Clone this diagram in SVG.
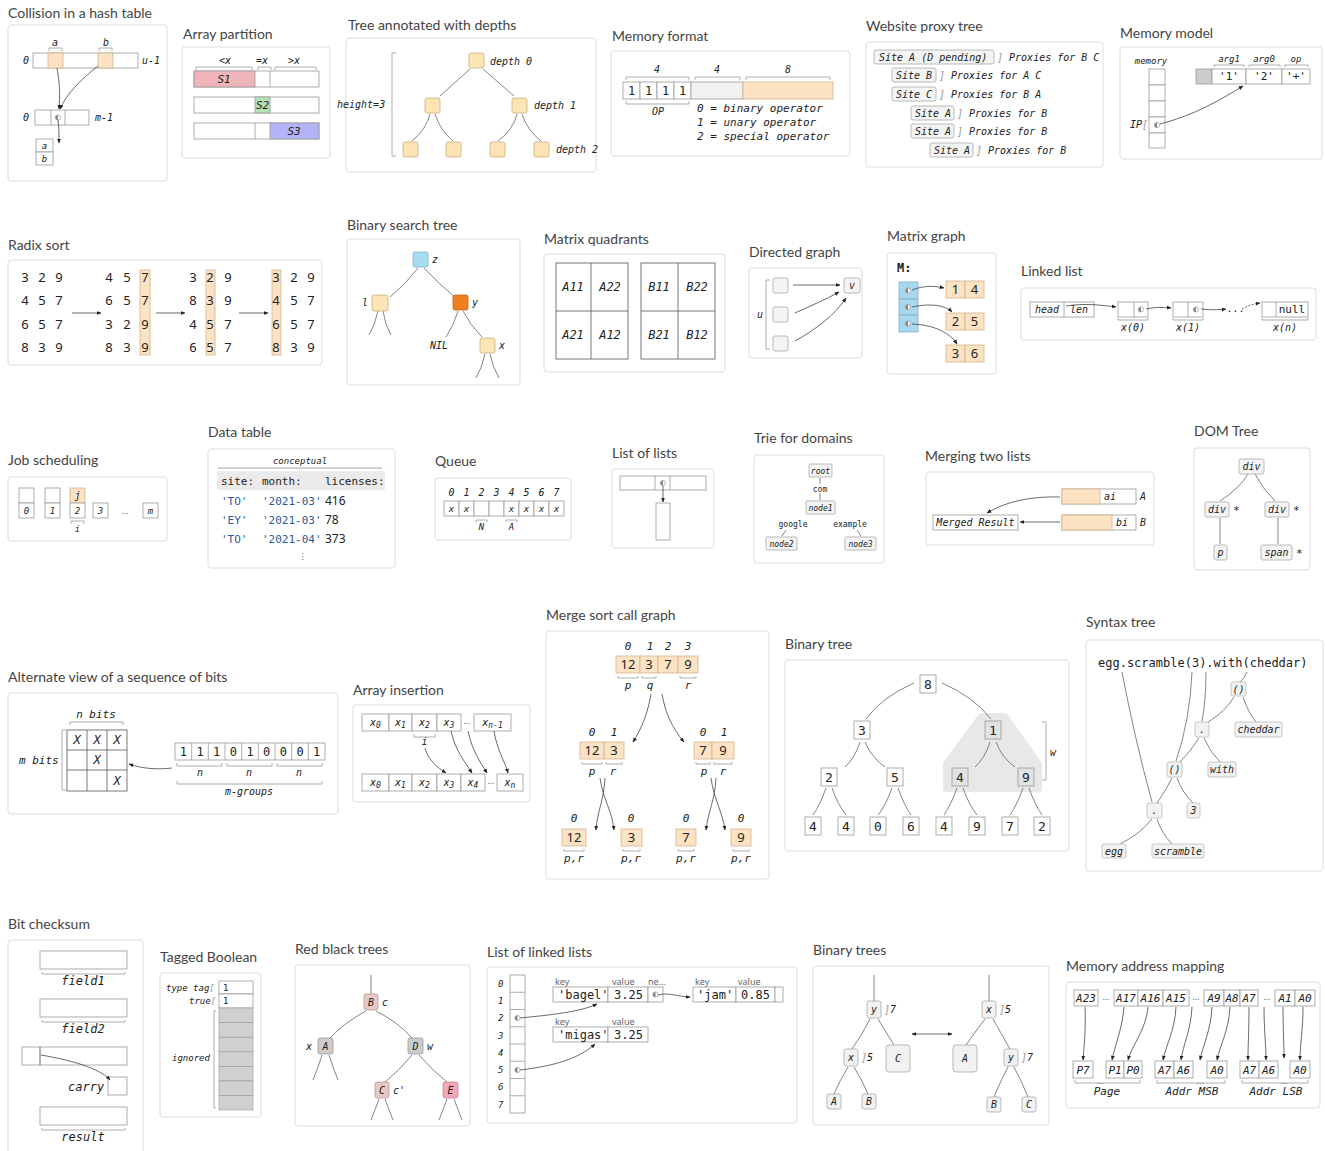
<svg xmlns="http://www.w3.org/2000/svg" width="1325" height="1151" viewBox="0 0 1325 1151">
<defs>
<style>
.t{font-family:Lato,"Noto Sans",sans-serif;font-size:14px;fill:#444}
.p{fill:#fff;stroke:#ddd;stroke-width:1}
.m{font-family:"DejaVu Sans Mono",monospace;font-style:italic;font-size:10px;fill:#222}
.mn{font-family:"DejaVu Sans Mono",monospace;font-size:11px;fill:#222}
.s{font-family:"Noto Sans",sans-serif;font-size:13px;fill:#222}
.sm{font-family:"Noto Sans",sans-serif;font-size:9px;fill:#666}
.c{fill:#fff;stroke:#999;stroke-width:0.8}
.o{fill:#fde2c4;stroke:#d2b58f;stroke-width:0.8}
.n{fill:#fde4b5;stroke:#c9ac80;stroke-width:0.8}
.g{fill:#f4f4f4;stroke:#aaa;stroke-width:0.8}
.e{fill:none;stroke:#666;stroke-width:0.8}
.b{fill:none;stroke:#999;stroke-width:0.8}
.a{fill:none;stroke:#444;stroke-width:0.8;marker-end:url(#ah)}
.mid{text-anchor:middle}
.f8{font-size:8px}.f9{font-size:9px}.f11{font-size:11px}.f12{font-size:12px}.f13{font-size:13px}
.gr{fill:#999}
.str{fill:#2a5a9a}
</style>
<marker id="ah" viewBox="0 0 10 10" refX="9" refY="5" markerWidth="6" markerHeight="6" orient="auto"><path d="M0,1 L10,5 L0,9 z" fill="#222"/></marker>
<marker id="ahs" viewBox="0 0 10 10" refX="1" refY="5" markerWidth="6" markerHeight="6" orient="auto"><path d="M10,1 L0,5 L10,9 z" fill="#222"/></marker>
<g id="ptr"><circle r="2.6" fill="#fff" stroke="#888" stroke-width="0.6"/><path d="M0,-2.6 A2.6,2.6 0 0 0 0,2.6 z" fill="#888"/></g>
</defs>
<rect width="1325" height="1151" fill="#fff"/>

<!-- 1 Collision in a hash table -->
<g id="hash">
<text class="t" x="8" y="18">Collision in a hash table</text>
<rect class="p" x="8" y="25" width="159" height="156" rx="3"/>
<rect class="c" x="33" y="53" width="105" height="15"/>
<rect class="o" x="48" y="53" width="15" height="15"/>
<rect class="o" x="98" y="53" width="15" height="15"/>
<text class="m" x="23" y="64">0</text>
<text class="m" x="142" y="64">u-1</text>
<text class="m mid" x="55" y="46">a</text>
<path class="b" d="M49,51 V48 H62 V51"/>
<text class="m mid" x="106" y="46">b</text>
<path class="b" d="M99,51 V48 H112 V51"/>
<rect class="c" x="35" y="110" width="54" height="15"/>
<path class="b" d="M51,110 V125 M65,110 V125"/>
<use href="#ptr" x="58" y="117.5"/>
<text class="m" x="23" y="121">0</text>
<text class="m" x="95" y="121">m-1</text>
<rect class="c" x="36" y="139" width="17" height="13"/>
<rect class="c" x="36" y="152" width="17" height="13"/>
<text class="m mid f9" x="44.5" y="149">a</text>
<text class="m mid f9" x="44.5" y="162">b</text>
<g id="hash-edges">
<path class="a" d="M57,68 C60,85 60,95 59,109"/>
<path class="a" d="M98,66 C80,80 66,95 60,109"/>
<path class="a" d="M58,120 C59,128 59,135 59,143"/>
</g>
</g>

<!-- 2 Array partition -->
<g id="partition">
<text class="t" x="183" y="39">Array partition</text>
<rect class="p" x="182" y="47" width="148" height="111" rx="3"/>
<text class="m mid" x="225" y="64">&lt;x</text>
<text class="m mid" x="262" y="64">=x</text>
<text class="m mid" x="294" y="64">&gt;x</text>
<path class="b" d="M196,70 V67 H252 V70 M258,70 V67 H271 V70 M275,70 V67 H316 V70"/>
<rect class="c" x="194" y="71" width="125" height="16"/>
<rect x="194" y="71" width="61" height="16" fill="#f0b4bb" stroke="#999" stroke-width="0.8"/>
<path class="b" d="M270,71 V87"/>
<text class="m mid f11" x="224" y="83">S1</text>
<rect class="c" x="194" y="97" width="125" height="16"/>
<rect x="255" y="97" width="15" height="16" fill="#b5e0b5" stroke="#999" stroke-width="0.8"/>
<text class="m mid f11" x="262.5" y="109">S2</text>
<rect class="c" x="194" y="123" width="125" height="16"/>
<path class="b" d="M255,123 V139"/>
<rect x="270" y="123" width="49" height="16" fill="#b3b3f7" stroke="#999" stroke-width="0.8"/>
<text class="m mid f11" x="294" y="135">S3</text>
</g>

<!-- 3 Tree annotated with depths -->
<g id="depths">
<text class="t" x="348" y="30">Tree annotated with depths</text>
<rect class="p" x="346" y="38" width="250" height="134" rx="3"/>
<path class="b" d="M396,53 H392 V156 H396"/>
<text class="m" x="337" y="108">height=3</text>
<g id="depths-edges">
<path class="e" d="M470,69 L440,96 M483,69 L514,96"/>
<path class="e" d="M430,114 Q426,130 412,141 M435,114 Q440,130 453,141"/>
<path class="e" d="M517,114 Q513,130 498,141 M522,114 Q527,130 541,141"/>
</g>
<rect class="n" x="469" y="53" width="15" height="15" rx="2"/>
<rect class="n" x="425" y="98" width="15" height="15" rx="2"/>
<rect class="n" x="512" y="98" width="15" height="15" rx="2"/>
<rect class="n" x="403" y="142" width="15" height="15" rx="2"/>
<rect class="n" x="446" y="142" width="15" height="15" rx="2"/>
<rect class="n" x="490" y="142" width="15" height="15" rx="2"/>
<rect class="n" x="534" y="142" width="15" height="15" rx="2"/>
<text class="m" x="490" y="65">depth 0</text>
<text class="m" x="534" y="109">depth 1</text>
<text class="m" x="556" y="153">depth 2</text>
</g>

<!-- 4 Memory format -->
<g id="memformat">
<text class="t" x="612" y="41">Memory format</text>
<rect class="p" x="611" y="51" width="239" height="105" rx="3"/>
<text class="m mid" x="657" y="73">4</text>
<text class="m mid" x="717" y="73">4</text>
<text class="m mid" x="788" y="73">8</text>
<path class="b" d="M626,80 V77 H689 V80 M695,80 V77 H740 V80 M746,80 V77 H830 V80"/>
<rect class="c" x="623" y="82" width="17" height="17"/>
<rect class="c" x="640" y="82" width="17" height="17"/>
<rect class="c" x="657" y="82" width="17" height="17"/>
<rect class="c" x="674" y="82" width="17" height="17"/>
<rect x="691" y="82" width="52" height="17" fill="#f2f2f2" stroke="#999" stroke-width="0.8"/>
<rect class="o" x="743" y="82" width="90" height="17"/>
<text class="mn mid f12" x="631.5" y="95">1</text>
<text class="mn mid f12" x="648.5" y="95">1</text>
<text class="mn mid f12" x="665.5" y="95">1</text>
<text class="mn mid f12" x="682.5" y="95">1</text>
<path class="b" d="M626,101 V104 H689 V101"/>
<text class="m mid" x="658" y="115">OP</text>
<text class="m f11" x="697" y="112">0 = binary operator</text>
<text class="m f11" x="697" y="126">1 = unary operator</text>
<text class="m f11" x="697" y="140">2 = special operator</text>
</g>

<!-- 5 Website proxy tree -->
<g id="proxy">
<text class="t" x="866" y="31">Website proxy tree</text>
<rect class="p" x="866" y="42" width="237" height="125" rx="3"/>
<rect class="g" x="874" y="50" width="120" height="14" rx="2"/>
<text class="m" x="879" y="61">Site A (D pending)</text>
<text class="m" x="997" y="61"><tspan class="gr">]</tspan> Proxies for B C</text>
<rect class="g" x="892" y="68" width="44" height="14" rx="2"/>
<text class="m" x="896" y="79">Site B</text>
<text class="m" x="939" y="79"><tspan class="gr">]</tspan> Proxies for A C</text>
<rect class="g" x="892" y="87" width="44" height="14" rx="2"/>
<text class="m" x="896" y="98">Site C</text>
<text class="m" x="939" y="98"><tspan class="gr">]</tspan> Proxies for B A</text>
<rect class="g" x="911" y="106" width="43" height="14" rx="2"/>
<text class="m" x="915" y="117">Site A</text>
<text class="m" x="957" y="117"><tspan class="gr">]</tspan> Proxies for B</text>
<rect class="g" x="911" y="124" width="43" height="14" rx="2"/>
<text class="m" x="915" y="135">Site A</text>
<text class="m" x="957" y="135"><tspan class="gr">]</tspan> Proxies for B</text>
<rect class="g" x="930" y="143" width="43" height="14" rx="2"/>
<text class="m" x="934" y="154">Site A</text>
<text class="m" x="976" y="154"><tspan class="gr">]</tspan> Proxies for B</text>
</g>

<!-- 6 Memory model -->
<g id="memmodel">
<text class="t" x="1120" y="38">Memory model</text>
<rect class="p" x="1120" y="47" width="202" height="112" rx="3"/>
<text class="m mid f9" x="1151" y="64">memory</text>
<rect class="c" x="1149" y="69" width="16" height="16"/>
<rect class="c" x="1149" y="85" width="16" height="16"/>
<rect class="c" x="1149" y="101" width="16" height="16"/>
<rect class="c" x="1149" y="117" width="16" height="16"/>
<rect class="c" x="1149" y="133" width="16" height="15"/>
<use href="#ptr" x="1157" y="125"/>
<text class="m" x="1130" y="128">IP<tspan class="gr">[</tspan></text>
<rect x="1196" y="69" width="16" height="15" fill="#ccc" stroke="#999" stroke-width="0.8"/>
<rect class="c" x="1212" y="69" width="34" height="15"/>
<rect class="c" x="1246" y="69" width="36" height="15"/>
<rect class="c" x="1282" y="69" width="28" height="15"/>
<text class="mn mid" x="1229" y="80">'1'</text>
<text class="mn mid" x="1264" y="80">'2'</text>
<text class="mn mid" x="1296" y="80">'+'</text>
<text class="m mid f9" x="1229" y="62">arg1</text>
<text class="m mid f9" x="1264" y="62">arg0</text>
<text class="m mid f9" x="1296" y="62">op</text>
<path class="b" d="M1214,67 V65 H1244 V67 M1249,67 V65 H1280 V67 M1285,67 V65 H1308 V67"/>
<g id="memmodel-edges"><path class="a" d="M1160,124 C1195,115 1220,100 1243,86"/></g>
</g>

<!-- 7 Radix sort -->
<g id="radix">
<text class="t" x="8" y="250">Radix sort</text>
<rect class="p" x="8" y="260" width="314" height="105" rx="3"/>
<rect class="o" x="140" y="270" width="10" height="85"/>
<rect class="o" x="206" y="270" width="9" height="85"/>
<rect class="o" x="272" y="270" width="9" height="85"/>
<g class="s" text-anchor="middle">
<text x="25" y="282">3</text><text x="42" y="282">2</text><text x="59" y="282">9</text>
<text x="25" y="305">4</text><text x="42" y="305">5</text><text x="59" y="305">7</text>
<text x="25" y="329">6</text><text x="42" y="329">5</text><text x="59" y="329">7</text>
<text x="25" y="352">8</text><text x="42" y="352">3</text><text x="59" y="352">9</text>
<text x="109" y="282">4</text><text x="127" y="282">5</text><text x="145" y="282">7</text>
<text x="109" y="305">6</text><text x="127" y="305">5</text><text x="145" y="305">7</text>
<text x="109" y="329">3</text><text x="127" y="329">2</text><text x="145" y="329">9</text>
<text x="109" y="352">8</text><text x="127" y="352">3</text><text x="145" y="352">9</text>
<text x="193" y="282">3</text><text x="210" y="282">2</text><text x="228" y="282">9</text>
<text x="193" y="305">8</text><text x="210" y="305">3</text><text x="228" y="305">9</text>
<text x="193" y="329">4</text><text x="210" y="329">5</text><text x="228" y="329">7</text>
<text x="193" y="352">6</text><text x="210" y="352">5</text><text x="228" y="352">7</text>
<text x="276" y="282">3</text><text x="294" y="282">2</text><text x="311" y="282">9</text>
<text x="276" y="305">4</text><text x="294" y="305">5</text><text x="311" y="305">7</text>
<text x="276" y="329">6</text><text x="294" y="329">5</text><text x="311" y="329">7</text>
<text x="276" y="352">8</text><text x="294" y="352">3</text><text x="311" y="352">9</text>
</g>
<g id="radix-edges">
<path class="a" d="M72,313 H101"/>
<path class="a" d="M156,313 H185"/>
<path class="a" d="M239,313 H268"/>
</g>
</g>

<!-- 8 Binary search tree -->
<g id="bst">
<text class="t" x="347" y="230">Binary search tree</text>
<rect class="p" x="347" y="239" width="173" height="146" rx="3"/>
<g id="bst-edges">
<path class="e" d="M418,268 Q405,285 390,297"/>
<path class="e" d="M424,268 Q440,285 455,297"/>
<path class="e" d="M378,311 Q375,325 369,335 M383,311 Q385,325 391,335"/>
<path class="e" d="M458,311 Q454,325 446,337"/>
<path class="e" d="M463,311 Q470,325 482,337"/>
<path class="e" d="M485,354 Q482,368 476,378 M490,354 Q493,368 499,378"/>
</g>
<rect x="413" y="252" width="15" height="15" rx="2" fill="#a8dcf0" stroke="#7fb4cc" stroke-width="0.8"/>
<rect class="n" x="372" y="295" width="16" height="16" rx="2"/>
<rect x="453" y="295" width="15" height="15" rx="2" fill="#f07f1f" stroke="#c8661a" stroke-width="0.8"/>
<rect class="n" x="480" y="338" width="15" height="15" rx="2"/>
<text class="m" x="432" y="263">z</text>
<text class="m" x="362" y="306">l</text>
<text class="m" x="472" y="306">y</text>
<text class="m" x="499" y="349">x</text>
<text class="m" x="430" y="349">NIL</text>
</g>

<!-- 9 Matrix quadrants -->
<g id="quadrants">
<text class="t" x="544" y="244">Matrix quadrants</text>
<rect class="p" x="544" y="254" width="181" height="118" rx="3"/>
<rect x="556" y="263" width="72" height="96" fill="none" stroke="#555" stroke-width="0.8"/>
<path d="M591,263 V359 M556,311 H628" stroke="#555" stroke-width="0.8"/>
<rect x="641" y="263" width="74" height="96" fill="none" stroke="#555" stroke-width="0.8"/>
<path d="M678,263 V359 M641,311 H715" stroke="#555" stroke-width="0.8"/>
<g class="m f12" text-anchor="middle">
<text x="573" y="291">A11</text><text x="610" y="291">A22</text>
<text x="573" y="339">A21</text><text x="610" y="339">A12</text>
<text x="659" y="291">B11</text><text x="697" y="291">B22</text>
<text x="659" y="339">B21</text><text x="697" y="339">B12</text>
</g>
</g>

<!-- 10 Directed graph -->
<g id="directed">
<text class="t" x="749" y="257">Directed graph</text>
<rect class="p" x="749" y="268" width="113" height="90" rx="3"/>
<rect class="g" x="773" y="278" width="15" height="15" rx="2"/>
<rect class="g" x="773" y="307" width="15" height="15" rx="2"/>
<rect class="g" x="773" y="336" width="15" height="15" rx="2"/>
<rect class="g" x="844" y="278" width="16" height="15" rx="2"/>
<text class="m mid" x="852" y="289">v</text>
<path class="b" d="M770,280 H766 V349 H770"/>
<text class="m" x="757" y="318">u</text>
<g id="directed-edges">
<path class="a" d="M793,285 H840"/>
<path class="a" d="M795,313 C810,306 825,300 839,292"/>
<path class="a" d="M795,341 C815,330 835,315 846,298"/>
</g>
</g>

<!-- 11 Matrix graph -->
<g id="matgraph">
<text class="t" x="887" y="241">Matrix graph</text>
<rect class="p" x="887" y="253" width="109" height="121" rx="3"/>
<text class="mn f12" x="897" y="272" font-weight="bold">M:</text>
<rect x="899" y="282" width="19" height="17" fill="#a8d8ee" stroke="#7fb0cc" stroke-width="0.8"/>
<rect x="899" y="299" width="19" height="16" fill="#a8d8ee" stroke="#7fb0cc" stroke-width="0.8"/>
<rect x="899" y="315" width="19" height="17" fill="#a8d8ee" stroke="#7fb0cc" stroke-width="0.8"/>
<use href="#ptr" x="908" y="290.5"/>
<use href="#ptr" x="908" y="307"/>
<use href="#ptr" x="908" y="323.5"/>
<rect class="o" x="946" y="281" width="19" height="17"/><rect class="o" x="965" y="281" width="19" height="17"/>
<rect class="o" x="946" y="313" width="19" height="17"/><rect class="o" x="965" y="313" width="19" height="17"/>
<rect class="o" x="946" y="345" width="19" height="17"/><rect class="o" x="965" y="345" width="19" height="17"/>
<g class="s" text-anchor="middle">
<text x="955.5" y="294">1</text><text x="974.5" y="294">4</text>
<text x="955.5" y="326">2</text><text x="974.5" y="326">5</text>
<text x="955.5" y="358">3</text><text x="974.5" y="358">6</text>
</g>
<g id="matgraph-edges">
<path class="a" d="M912,290 C925,285 935,286 944,288"/>
<path class="a" d="M912,307 C930,303 945,305 952,312"/>
<path class="a" d="M912,324 C935,325 950,333 957,344"/>
</g>
</g>

<!-- 12 Linked list -->
<g id="linked">
<text class="t" x="1021" y="276">Linked list</text>
<rect class="p" x="1021" y="288" width="295" height="52" rx="3"/>
<rect class="c" x="1030" y="302" width="64" height="15"/>
<path class="b" d="M1064,302 V317"/>
<text class="m mid" x="1047" y="313">head</text>
<text class="m mid" x="1079" y="313">len</text>
<rect class="c" x="1118" y="302" width="30" height="15"/><path class="b" d="M1134,302 V317"/>
<use href="#ptr" x="1141" y="309.5"/>
<rect class="c" x="1173" y="302" width="30" height="15"/><path class="b" d="M1188,302 V317"/>
<use href="#ptr" x="1196" y="309.5"/>
<rect class="c" x="1262" y="302" width="46" height="15"/><path class="b" d="M1276,302 V317"/>
<text class="mn mid" x="1292" y="313">null</text>
<path class="b" d="M1118,318 V320 H1148 V318 M1173,318 V320 H1203 V318 M1262,318 V320 H1308 V318"/>
<text class="m mid" x="1133" y="331">x(0)</text>
<text class="m mid" x="1188" y="331">x(1)</text>
<text class="m mid" x="1285" y="331">x(n)</text>
<text class="m" x="1227" y="312">...</text>
<g id="linked-edges">
<path class="a" d="M1066,306 C1085,303 1100,305 1116,307"/>
<path class="a" d="M1146,309 C1155,307 1162,307 1171,308"/>
<path class="a" d="M1201,309 C1210,310 1218,310 1226,309"/>
<path class="a" d="M1242,309 C1248,306 1252,304 1260,303" stroke-dasharray="2,1.5"/>
</g>
</g>

<!-- 13 Job scheduling -->
<g id="jobs">
<text class="t" x="8" y="465">Job scheduling</text>
<rect class="p" x="8" y="477" width="159" height="64" rx="3"/>
<rect class="c" x="19" y="488" width="15" height="15"/>
<rect class="c" x="45" y="488" width="15" height="15"/>
<rect class="o" x="70" y="488" width="15" height="15"/>
<text class="m mid" x="77.5" y="499">j</text>
<rect class="c" x="19" y="503" width="15" height="15"/>
<rect class="c" x="45" y="503" width="15" height="15"/>
<rect class="c" x="70" y="503" width="15" height="15"/>
<rect class="c" x="93" y="503" width="15" height="15"/>
<rect class="c" x="143" y="503" width="15" height="15"/>
<g class="m f9" text-anchor="middle">
<text x="26.5" y="514">0</text><text x="52.5" y="514">1</text><text x="77.5" y="514">2</text><text x="100.5" y="514">3</text><text x="150.5" y="514">m</text>
</g>
<text class="sm mid" x="125" y="514">...</text>
<path class="b" d="M71,524 V521 H84 V524"/>
<text class="m mid f9" x="77.5" y="532">i</text>
</g>

<!-- 14 Data table -->
<g id="datatable">
<text class="t" x="208" y="437">Data table</text>
<rect class="p" x="208" y="449" width="187" height="119" rx="3"/>
<text class="m mid f9" x="300" y="464">conceptual</text>
<path d="M218,468 H382" stroke="#888" stroke-width="0.8"/>
<rect x="217" y="471" width="168" height="19" fill="#ebebeb"/>
<g class="mn">
<text x="221" y="485">site:</text><text x="262" y="485">month:</text><text x="325" y="485">licenses:</text>
<text class="str" x="221" y="505">'TO'</text><text class="str" x="262" y="505">'2021-03'</text><text class="s f12" x="325" y="505">416</text>
<text class="str" x="221" y="524">'EY'</text><text class="str" x="262" y="524">'2021-03'</text><text class="s f12" x="325" y="524">78</text>
<text class="str" x="221" y="543">'TO'</text><text class="str" x="262" y="543">'2021-04'</text><text class="s f12" x="325" y="543">373</text>
</g>
<text class="sm mid" x="302" y="560">⋮</text>
</g>

<!-- 15 Queue -->
<g id="queue">
<text class="t" x="435" y="466">Queue</text>
<rect class="p" x="435" y="478" width="136" height="62" rx="3"/>
<g class="m" text-anchor="middle">
<text x="451.5" y="496">0</text><text x="466.5" y="496">1</text><text x="481.5" y="496">2</text><text x="496.5" y="496">3</text><text x="511.5" y="496">4</text><text x="526.5" y="496">5</text><text x="541.5" y="496">6</text><text x="556.5" y="496">7</text>
</g>
<rect class="c" x="444" y="501" width="15" height="15"/><rect class="c" x="459" y="501" width="15" height="15"/><rect class="c" x="474" y="501" width="15" height="15"/><rect class="c" x="489" y="501" width="15" height="15"/><rect class="c" x="504" y="501" width="15" height="15"/><rect class="c" x="519" y="501" width="15" height="15"/><rect class="c" x="534" y="501" width="15" height="15"/><rect class="c" x="549" y="501" width="15" height="15"/>
<g class="m f9" text-anchor="middle">
<text x="451.5" y="512">x</text><text x="466.5" y="512">x</text><text x="511.5" y="512">x</text><text x="526.5" y="512">x</text><text x="541.5" y="512">x</text><text x="556.5" y="512">x</text>
</g>
<path class="b" d="M476,522 V520 H487 V522 M506,522 V520 H517 V522"/>
<text class="m mid f9" x="481.5" y="530">N</text>
<text class="m mid f9" x="511.5" y="530">A</text>
</g>

<!-- 16 List of lists -->
<g id="listoflists">
<text class="t" x="612" y="458">List of lists</text>
<rect class="p" x="612" y="469" width="102" height="79" rx="3"/>
<rect class="c" x="620" y="476" width="86" height="14"/>
<path class="b" d="M655,476 V490 M670,476 V490"/>
<use href="#ptr" x="663" y="483"/>
<rect class="c" x="656" y="503" width="14" height="37"/>
<g id="listoflists-edges"><path class="a" d="M663,486 V502"/></g>
</g>

<!-- 17 Trie for domains -->
<g id="trie">
<text class="t" x="754" y="443">Trie for domains</text>
<rect class="p" x="754" y="455" width="130" height="108" rx="3"/>
<g id="trie-edges">
<path class="e" d="M820,478 V484 M820,493 V500"/>
<path class="e" d="M786,530 L782,536 M857,530 L861,536"/>
</g>
<rect class="g" x="809" y="464" width="23" height="13" rx="1"/>
<text class="m mid f8" x="820.5" y="474">root</text>
<text class="mn mid f8" x="820" y="492">com</text>
<rect class="g" x="806" y="501" width="29" height="13" rx="1"/>
<text class="m mid f8" x="820.5" y="511">node1</text>
<text class="mn mid f8" x="793" y="527">google</text>
<text class="mn mid f8" x="850" y="527">example</text>
<rect class="g" x="766" y="537" width="31" height="13" rx="1"/>
<text class="m mid f8" x="781.5" y="547">node2</text>
<rect class="g" x="845" y="537" width="31" height="13" rx="1"/>
<text class="m mid f8" x="860.5" y="547">node3</text>
</g>

<!-- 18 Merging two lists -->
<g id="merging">
<text class="t" x="925" y="461">Merging two lists</text>
<rect class="p" x="926" y="472" width="228" height="73" rx="3"/>
<rect class="c" x="1062" y="489" width="74" height="15"/>
<rect class="o" x="1062" y="489" width="38" height="15"/>
<text class="m" x="1104" y="500">ai</text>
<text class="m" x="1140" y="500">A</text>
<rect class="c" x="1062" y="515" width="74" height="15"/>
<rect class="o" x="1062" y="515" width="50" height="15"/>
<text class="m" x="1116" y="526">bi</text>
<text class="m" x="1140" y="526">B</text>
<rect class="c" x="933" y="515" width="85" height="15"/>
<text class="m mid" x="975.5" y="526">Merged Result</text>
<g id="merging-edges">
<path class="a" d="M1060,497 C1030,496 1005,502 987,513"/>
<path class="a" d="M1060,522 H1020"/>
</g>
</g>

<!-- 19 DOM Tree -->
<g id="dom">
<text class="t" x="1194" y="436">DOM Tree</text>
<rect class="p" x="1194" y="448" width="116" height="122" rx="3"/>
<g id="dom-edges">
<path class="e" d="M1248,474 Q1240,488 1220,501"/>
<path class="e" d="M1255,474 Q1262,488 1275,501"/>
<path class="e" d="M1220,518 V544"/>
<path class="e" d="M1278,518 V544"/>
</g>
<rect class="g" x="1239" y="459" width="25" height="15" rx="2"/>
<text class="m mid" x="1251.5" y="470">div</text>
<rect class="g" x="1205" y="502" width="24" height="15" rx="2"/>
<text class="m mid" x="1217" y="513">div</text>
<text class="mn" x="1233" y="514">*</text>
<rect class="g" x="1265" y="502" width="24" height="15" rx="2"/>
<text class="m mid" x="1277" y="513">div</text>
<text class="mn" x="1293" y="514">*</text>
<rect class="g" x="1214" y="545" width="13" height="15" rx="2"/>
<text class="m mid" x="1220.5" y="556">p</text>
<rect class="g" x="1261" y="545" width="31" height="15" rx="2"/>
<text class="m mid" x="1276.5" y="556">span</text>
<text class="mn" x="1296" y="557">*</text>
</g>

<!-- 20 Alternate view of a sequence of bits -->
<g id="altbits">
<text class="t" x="8" y="682">Alternate view of a sequence of bits</text>
<rect class="p" x="8" y="693" width="330" height="121" rx="3"/>
<text class="m mid f11" x="96" y="718">n bits</text>
<path class="b" d="M70,725 V722 H123 V725"/>
<text class="m f11" x="19" y="764">m bits</text>
<path class="b" d="M66,730 H62 V790 H66"/>
<rect x="67" y="730" width="60" height="61" fill="#fff" stroke="#555" stroke-width="0.8"/>
<path d="M87,730 V791 M107,730 V791 M67,750 H127 M67,770 H127" stroke="#555" stroke-width="0.8"/>
<g class="m f12" text-anchor="middle">
<text x="77" y="744">X</text><text x="97" y="744">X</text><text x="117" y="744">X</text>
<text x="97" y="764">X</text><text x="117" y="785">X</text>
</g>
<rect class="c" x="175" y="743" width="150" height="17"/>
<path class="b" d="M191.7,743 V760 M208.3,743 V760 M225,743 V760 M241.7,743 V760 M258.3,743 V760 M275,743 V760 M291.7,743 V760 M308.3,743 V760"/>
<g class="mn f12" text-anchor="middle">
<text x="183.3" y="756">1</text><text x="200" y="756">1</text><text x="216.7" y="756">1</text><text x="233.3" y="756">0</text><text x="250" y="756">1</text><text x="266.7" y="756">0</text><text x="283.3" y="756">0</text><text x="300" y="756">0</text><text x="316.7" y="756">1</text>
</g>
<path class="b" d="M177,763 V766 H222 V763 M227,763 V766 H272 V763 M277,763 V766 H322 V763"/>
<text class="m mid" x="200" y="776">n</text><text class="m mid" x="249" y="776">n</text><text class="m mid" x="299" y="776">n</text>
<path class="b" d="M177,781 V784 H322 V781"/>
<text class="m mid" x="249" y="795">m-groups</text>
<g id="altbits-edges"><path class="a" d="M172,768 C155,770 140,768 129,764"/></g>
</g>

<!-- 21 Array insertion -->
<g id="arrinsert">
<text class="t" x="353" y="695">Array insertion</text>
<rect class="p" x="353" y="705" width="177" height="97" rx="3"/>
<rect class="c" x="362" y="714" width="27" height="17"/><rect class="c" x="389" y="714" width="23" height="17"/><rect class="c" x="412" y="714" width="25" height="17"/><rect class="c" x="437" y="714" width="24" height="17"/><rect class="c" x="474" y="714" width="37" height="17"/>
<g class="m" text-anchor="middle">
<text x="375.5" y="726">x<tspan class="f8" dy="2">0</tspan></text>
<text x="400.5" y="726">x<tspan class="f8" dy="2">1</tspan></text>
<text x="424.5" y="726">x<tspan class="f8" dy="2">2</tspan></text>
<text x="449" y="726">x<tspan class="f8" dy="2">3</tspan></text>
<text x="492.5" y="726">x<tspan class="f8" dy="2">n-1</tspan></text>
</g>
<text class="sm mid" x="467" y="724">...</text>
<path class="b" d="M414,734 V737 H435 V734"/>
<text class="m mid" x="424.5" y="745">i</text>
<rect class="c" x="362" y="774" width="27" height="17"/><rect class="c" x="389" y="774" width="23" height="17"/><rect class="c" x="412" y="774" width="25" height="17"/><rect class="c" x="437" y="774" width="24" height="17"/><rect class="c" x="461" y="774" width="24" height="17"/><rect class="c" x="497" y="774" width="26" height="17"/>
<g class="m" text-anchor="middle">
<text x="375.5" y="786">x<tspan class="f8" dy="2">0</tspan></text>
<text x="400.5" y="786">x<tspan class="f8" dy="2">1</tspan></text>
<text x="424.5" y="786">x<tspan class="f8" dy="2">2</tspan></text>
<text x="449" y="786">x<tspan class="f8" dy="2">3</tspan></text>
<text x="473" y="786">x<tspan class="f8" dy="2">4</tspan></text>
<text x="510" y="786">x<tspan class="f8" dy="2">n</tspan></text>
</g>
<text class="sm mid" x="491" y="784">...</text>
<g id="arrinsert-edges">
<path class="a" d="M425,748 C428,760 438,768 446,773"/>
<path class="a" d="M451,731 C455,750 465,762 472,773"/>
<path class="a" d="M468,731 C472,750 480,762 487,773"/>
<path class="a" d="M494,731 C497,750 505,762 508,773"/>
</g>
</g>

<!-- 22 Merge sort call graph -->
<g id="mergesort">
<text class="t" x="546" y="620">Merge sort call graph</text>
<rect class="p" x="546" y="631" width="223" height="248" rx="3"/>
<g class="m f11" text-anchor="middle">
<text x="628" y="650">0</text><text x="650" y="650">1</text><text x="668" y="650">2</text><text x="688" y="650">3</text>
</g>
<rect class="o" x="616" y="656" width="24" height="17"/><rect class="o" x="640" y="656" width="18" height="17"/><rect class="o" x="658" y="656" width="20" height="17"/><rect class="o" x="678" y="656" width="20" height="17"/>
<g class="s" text-anchor="middle">
<text x="628" y="669">12</text><text x="649" y="669">3</text><text x="668" y="669">7</text><text x="688" y="669">9</text>
</g>
<path class="b" d="M618,676 V678 H638 V676 M642,676 V678 H656 V676 M680,676 V678 H696 V676"/>
<g class="m f11" text-anchor="middle"><text x="628" y="689">p</text><text x="650" y="689">q</text><text x="688" y="689">r</text></g>
<g class="m f11" text-anchor="middle">
<text x="592" y="736">0</text><text x="614" y="736">1</text><text x="703" y="736">0</text><text x="724" y="736">1</text>
</g>
<rect class="o" x="580" y="742" width="24" height="17"/><rect class="o" x="604" y="742" width="20" height="17"/>
<rect class="o" x="694" y="742" width="18" height="17"/><rect class="o" x="712" y="742" width="22" height="17"/>
<g class="s" text-anchor="middle">
<text x="592" y="755">12</text><text x="614" y="755">3</text><text x="703" y="755">7</text><text x="723" y="755">9</text>
</g>
<path class="b" d="M582,762 V764 H602 V762 M606,762 V764 H622 V762 M696,762 V764 H710 V762 M714,762 V764 H732 V762"/>
<g class="m f11" text-anchor="middle"><text x="592" y="775">p</text><text x="613" y="775">r</text><text x="704" y="775">p</text><text x="723" y="775">r</text></g>
<g class="m f11" text-anchor="middle">
<text x="574" y="822">0</text><text x="631" y="822">0</text><text x="686" y="822">0</text><text x="741" y="822">0</text>
</g>
<rect class="o" x="562" y="829" width="24" height="17"/><rect class="o" x="621" y="829" width="21" height="17"/><rect class="o" x="676" y="829" width="20" height="17"/><rect class="o" x="731" y="829" width="20" height="17"/>
<g class="s" text-anchor="middle">
<text x="574" y="842">12</text><text x="631.5" y="842">3</text><text x="686" y="842">7</text><text x="741" y="842">9</text>
</g>
<path class="b" d="M564,849 V851 H584 V849 M623,849 V851 H640 V849 M678,849 V851 H694 V849 M733,849 V851 H749 V849"/>
<g class="m f11" text-anchor="middle"><text x="574" y="862">p,r</text><text x="631" y="862">p,r</text><text x="686" y="862">p,r</text><text x="741" y="862">p,r</text></g>
<g id="mergesort-edges">
<path class="a" d="M651,694 C648,712 642,728 633,742"/>
<path class="a" d="M662,694 C665,712 672,728 684,742"/>
<path class="a" d="M600,778 C603,800 612,810 614,830"/>
<path class="a" d="M605,778 C604,800 597,812 596,830"/>
<path class="a" d="M711,778 C714,800 722,810 725,830"/>
<path class="a" d="M716,778 C715,800 708,812 706,830"/>
</g>
</g>

<!-- 23 Binary tree -->
<g id="bintree">
<text class="t" x="785" y="649">Binary tree</text>
<rect class="p" x="785" y="660" width="284" height="191" rx="3"/>
<path d="M981,716 L1005,716 L1039,764 L1039,789 L946,789 L946,764 Z" fill="#e8e8e8" stroke="#e8e8e8" stroke-width="6" stroke-linejoin="round"/>
<path class="b" d="M1042,722 H1046 V780 H1042"/>
<text class="m" x="1050" y="756">w</text>
<g id="bintree-edges">
<path class="e" d="M914,683 Q882,697 866,719"/>
<path class="e" d="M942,683 Q974,697 991,719"/>
<path class="e" d="M860,742 Q855,758 845,767 M865,742 Q872,758 885,767"/>
<path class="e" d="M990,742 Q985,758 975,767 M996,742 Q1002,758 1015,767"/>
<path class="e" d="M826,788 Q820,805 813,815 M832,788 Q838,805 846,815"/>
<path class="e" d="M892,788 Q886,805 878,815 M898,788 Q904,805 911,815"/>
<path class="e" d="M957,788 Q951,805 944,815 M963,788 Q969,805 977,815"/>
<path class="e" d="M1023,788 Q1017,805 1010,815 M1029,788 Q1035,805 1042,815"/>
</g>
<g class="c">
<rect x="920" y="675" width="16" height="18"/><rect x="854" y="721" width="16" height="18"/>
<rect x="821" y="768" width="16" height="18"/><rect x="887" y="768" width="16" height="18"/>
<rect x="805" y="817" width="16" height="18"/><rect x="838" y="817" width="16" height="18"/><rect x="870" y="817" width="16" height="18"/><rect x="903" y="817" width="16" height="18"/>
<rect x="936" y="817" width="16" height="18"/><rect x="969" y="817" width="16" height="18"/><rect x="1002" y="817" width="16" height="18"/><rect x="1034" y="817" width="16" height="18"/>
</g>
<g fill="#e2e2e2" stroke="#999" stroke-width="0.8">
<rect x="985" y="721" width="16" height="18"/><rect x="952" y="768" width="16" height="18"/><rect x="1018" y="768" width="16" height="18"/>
</g>
<g class="mn f13" text-anchor="middle">
<text x="928" y="689">8</text><text x="862" y="735">3</text><text x="993" y="735">1</text>
<text x="829" y="782">2</text><text x="895" y="782">5</text><text x="960" y="782">4</text><text x="1026" y="782">9</text>
<text x="813" y="831">4</text><text x="846" y="831">4</text><text x="878" y="831">0</text><text x="911" y="831">6</text><text x="944" y="831">4</text><text x="977" y="831">9</text><text x="1010" y="831">7</text><text x="1042" y="831">2</text>
</g>
</g>

<!-- 24 Syntax tree -->
<g id="syntax">
<text class="t" x="1086" y="627">Syntax tree</text>
<rect class="p" x="1086" y="640" width="237" height="231" rx="3"/>
<text class="mn f12" x="1098" y="667">egg.scramble(3).with(cheddar)</text>
<g id="syntax-edges">
<path class="e" d="M1122,672 Q1135,740 1152,802"/>
<path class="e" d="M1192,672 Q1190,720 1176,761"/>
<path class="e" d="M1206,672 Q1206,700 1202,721"/>
<path class="e" d="M1247,672 Q1245,678 1240,682"/>
<path class="e" d="M1234,697 Q1225,712 1208,722 M1243,697 Q1248,712 1256,722"/>
<path class="e" d="M1199,738 Q1190,752 1180,762 M1204,738 Q1210,752 1220,762"/>
<path class="e" d="M1172,778 Q1165,792 1157,803 M1177,778 Q1182,792 1193,803"/>
<path class="e" d="M1152,819 Q1140,834 1120,844 M1157,819 Q1162,834 1172,844"/>
</g>
<g fill="#f2f2f2" stroke="#bbb" stroke-width="0.8">
<rect x="1231" y="682" width="15" height="14" rx="2"/>
<rect x="1195" y="722" width="14" height="15" rx="2"/>
<rect x="1235" y="722" width="47" height="15" rx="2"/>
<rect x="1167" y="762" width="15" height="15" rx="2"/>
<rect x="1208" y="762" width="28" height="15" rx="2"/>
<rect x="1147" y="803" width="15" height="15" rx="2"/>
<rect x="1187" y="803" width="13" height="15" rx="2"/>
<rect x="1102" y="844" width="24" height="14" rx="2"/>
<rect x="1152" y="844" width="52" height="14" rx="2"/>
</g>
<g class="m" text-anchor="middle">
<text x="1238.5" y="693">()</text>
<text x="1202" y="733">.</text>
<text x="1258.5" y="733">cheddar</text>
<text x="1174.5" y="773">()</text>
<text x="1222" y="773">with</text>
<text x="1154.5" y="814">.</text>
<text x="1193.5" y="814">3</text>
<text x="1114" y="855">egg</text>
<text x="1178" y="855">scramble</text>
</g>
</g>

<!-- 25 Bit checksum -->
<g id="checksum">
<text class="t" x="8" y="929">Bit checksum</text>
<rect class="p" x="8" y="940" width="135" height="216" rx="3"/>
<rect class="c" x="40" y="951" width="87" height="18"/>
<path class="b" d="M42,972 V974 H125 V972"/>
<text class="m mid f12" x="83" y="985">field1</text>
<rect class="c" x="40" y="999" width="87" height="18"/>
<path class="b" d="M42,1020 V1022 H125 V1020"/>
<text class="m mid f12" x="83" y="1033">field2</text>
<rect class="c" x="22" y="1047" width="105" height="18"/>
<path d="M40,1047 V1065" stroke="#444" stroke-width="0.8"/>
<rect class="c" x="108" y="1077" width="19" height="18"/>
<text class="m f12" x="68" y="1091">carry</text>
<rect class="c" x="40" y="1107" width="87" height="18"/>
<path class="b" d="M42,1128 V1130 H125 V1128"/>
<text class="m mid f12" x="83" y="1141">result</text>
<g id="checksum-edges"><path class="a" d="M41,1055 C70,1060 100,1068 110,1080"/></g>
</g>

<!-- 26 Tagged Boolean -->
<g id="tagged">
<text class="t" x="160" y="962">Tagged Boolean</text>
<rect class="p" x="160" y="973" width="101" height="144" rx="3"/>
<text class="m f9" x="166" y="991">type tag<tspan class="gr">[</tspan></text>
<text class="m f9" x="189" y="1004">true<tspan class="gr">[</tspan></text>
<rect class="c" x="219" y="981" width="34" height="13"/>
<rect class="c" x="219" y="994" width="34" height="14"/>
<text class="mn f9" x="223" y="991">1</text>
<text class="mn f9" x="223" y="1004">1</text>
<g fill="#d0d0d0" stroke="#999" stroke-width="0.6">
<rect x="219" y="1008" width="34" height="14.6"/><rect x="219" y="1022.6" width="34" height="14.6"/><rect x="219" y="1037.2" width="34" height="14.6"/><rect x="219" y="1051.8" width="34" height="14.6"/><rect x="219" y="1066.4" width="34" height="14.6"/><rect x="219" y="1081" width="34" height="14.6"/><rect x="219" y="1095.6" width="34" height="14.4"/>
</g>
<path class="b" d="M216,1011 H214 V1108 H216"/>
<text class="m f9" x="172" y="1061">ignored</text>
</g>

<!-- 27 Red black trees -->
<g id="redblack">
<text class="t" x="295" y="954">Red black trees</text>
<rect class="p" x="295" y="965" width="175" height="161" rx="3"/>
<g id="redblack-edges">
<path class="e" d="M371,975 V994"/>
<path class="e" d="M366,1011 Q345,1022 330,1038"/>
<path class="e" d="M376,1011 Q398,1022 412,1038"/>
<path class="e" d="M322,1055 Q318,1068 313,1080 M329,1055 Q333,1068 338,1080"/>
<path class="e" d="M412,1055 Q400,1070 385,1082"/>
<path class="e" d="M419,1055 Q432,1070 447,1082"/>
<path class="e" d="M379,1099 Q375,1110 371,1120 M385,1099 Q389,1110 393,1120"/>
<path class="e" d="M447,1099 Q443,1110 439,1120 M454,1099 Q458,1110 462,1120"/>
</g>
<rect x="364" y="994" width="14" height="16" rx="2" fill="#e8c8c4" stroke="#b59a96" stroke-width="0.8"/>
<rect x="318" y="1038" width="15" height="16" rx="2" fill="#cccccc" stroke="#999" stroke-width="0.8"/>
<rect x="408" y="1038" width="15" height="16" rx="2" fill="#cccccc" stroke="#999" stroke-width="0.8"/>
<rect x="375" y="1082" width="14" height="16" rx="2" fill="#e8c8c4" stroke="#b59a96" stroke-width="0.8"/>
<rect x="443" y="1082" width="15" height="16" rx="2" fill="#f4a7b6" stroke="#c98593" stroke-width="0.8"/>
<g class="m" text-anchor="middle">
<text x="371" y="1006">B</text><text x="325.5" y="1050">A</text><text x="415.5" y="1050">D</text><text x="382" y="1094">C</text><text x="450.5" y="1094">E</text>
</g>
<text class="m" x="382" y="1006">c</text>
<text class="m" x="306" y="1050">x</text>
<text class="m" x="427" y="1050">w</text>
<text class="m" x="393" y="1094">c'</text>
</g>

<!-- 28 List of linked lists -->
<g id="listlinked">
<text class="t" x="487" y="957">List of linked lists</text>
<rect class="p" x="487" y="967" width="310" height="156" rx="3"/>
<rect class="c" x="510" y="975" width="15" height="138"/>
<path class="b" d="M510,992.25 H525 M510,1009.5 H525 M510,1026.75 H525 M510,1044 H525 M510,1061.25 H525 M510,1078.5 H525 M510,1095.75 H525"/>
<g class="m f9">
<text x="498" y="987">0</text><text x="498" y="1004">1</text><text x="498" y="1021">2</text><text x="498" y="1039">3</text><text x="498" y="1056">4</text><text x="498" y="1073">5</text><text x="498" y="1090">6</text><text x="498" y="1108">7</text>
</g>
<use href="#ptr" x="517.5" y="1018"/>
<use href="#ptr" x="517.5" y="1070"/>
<text class="sm" x="555" y="985">key</text><text class="sm" x="612" y="985">value</text><text class="sm" x="648" y="985">ne…</text>
<rect class="c" x="553" y="987" width="55" height="15"/><rect class="c" x="608" y="987" width="40" height="15"/><rect class="c" x="648" y="987" width="15" height="15"/>
<text class="mn f12" x="558" y="999">'bagel'</text><text class="mn f12" x="614" y="999">3.25</text>
<use href="#ptr" x="655.5" y="994.5"/>
<text class="sm" x="695" y="985">key</text><text class="sm" x="738" y="985">value</text>
<rect class="c" x="693" y="987" width="43" height="15"/><rect class="c" x="736" y="987" width="39" height="15"/><rect class="c" x="775" y="987" width="8" height="15"/>
<text class="mn f12" x="697" y="999">'jam'</text><text class="mn f12" x="741" y="999">0.85</text>
<text class="sm" x="555" y="1025">key</text><text class="sm" x="612" y="1025">value</text>
<rect class="c" x="553" y="1027" width="55" height="15"/><rect class="c" x="608" y="1027" width="40" height="15"/>
<text class="mn f12" x="558" y="1039">'migas'</text><text class="mn f12" x="614" y="1039">3.25</text>
<g id="listlinked-edges">
<path class="a" d="M520,1018 C550,1015 580,1012 597,1004"/>
<path class="a" d="M520,1070 C555,1066 580,1058 595,1044"/>
<path class="a" d="M658,995 C670,992 678,997 690,997"/>
</g>
</g>

<!-- 29 Binary trees -->
<g id="bintrees">
<text class="t" x="813" y="955">Binary trees</text>
<rect class="p" x="813" y="966" width="236" height="159" rx="3"/>
<g id="bintrees-edges">
<path class="e" d="M874,975 V1001"/>
<path class="e" d="M870,1019 Q862,1035 852,1049"/>
<path class="e" d="M878,1019 Q886,1032 894,1045"/>
<path class="e" d="M848,1067 Q840,1080 834,1094 M854,1067 Q862,1080 868,1094"/>
<path class="e" d="M989,975 V1001"/>
<path class="e" d="M985,1019 Q975,1032 966,1045"/>
<path class="e" d="M993,1019 Q1002,1035 1010,1049"/>
<path class="e" d="M1008,1067 Q1000,1082 994,1097 M1014,1067 Q1022,1082 1028,1097"/>
<path class="a" d="M912,1034 H952" marker-start="url(#ahs)"/>
</g>
<g fill="#f2f2f2" stroke="#aaa" stroke-width="0.8">
<rect x="867" y="1001" width="14" height="17" rx="2"/>
<rect x="844" y="1049" width="14" height="17" rx="2"/>
<rect x="886" y="1045" width="24" height="27" rx="3"/>
<rect x="827" y="1094" width="14" height="15" rx="2"/>
<rect x="862" y="1094" width="14" height="15" rx="2"/>
<rect x="982" y="1001" width="14" height="17" rx="2"/>
<rect x="953" y="1045" width="24" height="27" rx="3"/>
<rect x="1004" y="1049" width="14" height="17" rx="2"/>
<rect x="987" y="1097" width="14" height="15" rx="2"/>
<rect x="1022" y="1097" width="14" height="15" rx="2"/>
</g>
<g class="m" text-anchor="middle">
<text x="874" y="1013">y</text><text x="851" y="1061">x</text><text x="898" y="1062">C</text><text x="834" y="1105">A</text><text x="869" y="1105">B</text>
<text x="989" y="1013">x</text><text x="965" y="1062">A</text><text x="1011" y="1061">y</text><text x="994" y="1108">B</text><text x="1029" y="1108">C</text>
</g>
<text class="m" x="884" y="1013"><tspan class="gr">]</tspan>7</text>
<text class="m" x="861" y="1061"><tspan class="gr">]</tspan>5</text>
<text class="m" x="999" y="1013"><tspan class="gr">]</tspan>5</text>
<text class="m" x="1021" y="1061"><tspan class="gr">]</tspan>7</text>
</g>

<!-- 30 Memory address mapping -->
<g id="addrmap">
<text class="t" x="1066" y="971">Memory address mapping</text>
<rect class="p" x="1066" y="982" width="254" height="126" rx="3"/>
<g class="c">
<rect x="1074" y="990" width="24" height="16"/><rect x="1114" y="990" width="24" height="16"/><rect x="1138" y="990" width="25" height="16"/><rect x="1163" y="990" width="26" height="16"/><rect x="1204" y="990" width="20" height="16"/><rect x="1224" y="990" width="16" height="16"/><rect x="1240" y="990" width="18" height="16"/><rect x="1275" y="990" width="20" height="16"/><rect x="1295" y="990" width="20" height="16"/>
<rect x="1073" y="1061" width="20" height="17"/><rect x="1106" y="1061" width="18" height="17"/><rect x="1124" y="1061" width="18" height="17"/><rect x="1155" y="1061" width="19" height="17"/><rect x="1174" y="1061" width="19" height="17"/><rect x="1207" y="1061" width="20" height="17"/><rect x="1240" y="1061" width="19" height="17"/><rect x="1259" y="1061" width="19" height="17"/><rect x="1290" y="1061" width="20" height="17"/>
</g>
<g class="m f11" text-anchor="middle">
<text x="1086" y="1002">A23</text><text x="1126" y="1002">A17</text><text x="1150.5" y="1002">A16</text><text x="1176" y="1002">A15</text><text x="1214" y="1002">A9</text><text x="1232" y="1002">A8</text><text x="1249" y="1002">A7</text><text x="1285" y="1002">A1</text><text x="1305" y="1002">A0</text>
<text x="1083" y="1074">P7</text><text x="1115" y="1074">P1</text><text x="1133" y="1074">P0</text><text x="1164.5" y="1074">A7</text><text x="1183.5" y="1074">A6</text><text x="1217" y="1074">A0</text><text x="1249.5" y="1074">A7</text><text x="1268.5" y="1074">A6</text><text x="1300" y="1074">A0</text>
</g>
<g class="sm" text-anchor="middle">
<text x="1106" y="1000">...</text><text x="1196" y="1000">...</text><text x="1267" y="1000">...</text>
<text x="1100" y="1084">...</text><text x="1200" y="1084">...</text><text x="1284" y="1084">...</text>
</g>
<path class="b" d="M1075,1080 V1083 H1140 V1080 M1157,1080 V1083 H1225 V1080 M1242,1080 V1083 H1308 V1080"/>
<g class="m f11" text-anchor="middle"><text x="1107" y="1095">Page</text><text x="1192" y="1095">Addr MSB</text><text x="1276" y="1095">Addr LSB</text></g>
<g id="addrmap-edges">
<path class="a" d="M1085,1007 C1086,1030 1084,1045 1083,1060"/>
<path class="a" d="M1124,1007 C1122,1030 1115,1045 1112,1060"/>
<path class="a" d="M1148,1007 C1146,1030 1132,1045 1128,1060"/>
<path class="a" d="M1176,1007 C1175,1030 1166,1045 1163,1060"/>
<path class="a" d="M1192,1007 C1191,1030 1183,1045 1181,1060"/>
<path class="a" d="M1212,1007 C1211,1030 1203,1045 1200,1060"/>
<path class="a" d="M1230,1007 C1229,1030 1220,1045 1217,1060"/>
<path class="a" d="M1249,1007 C1249,1030 1248,1045 1248,1060"/>
<path class="a" d="M1264,1007 C1264,1030 1266,1045 1266,1060"/>
<path class="a" d="M1283,1007 C1283,1030 1284,1045 1284,1058"/>
<path class="a" d="M1303,1007 C1303,1030 1300,1045 1300,1060"/>
</g>
</g>
</svg>
